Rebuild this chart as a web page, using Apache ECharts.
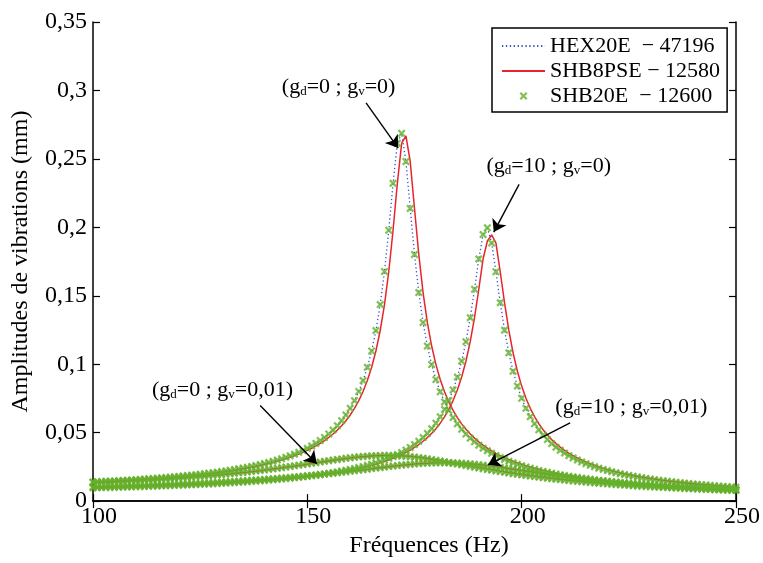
<!DOCTYPE html>
<html><head><meta charset="utf-8">
<script src="https://cdn.jsdelivr.net/npm/echarts@6/dist/echarts.min.js"></script>
<style>html,body{margin:0;padding:0;background:#fff}#c{width:763px;height:563px}</style>
</head><body><div id="c"></div>
<script>
// Frequencies (Hz)
const freqs = [100,101,102,103,104,105,106,107,108,109,110,111,112,113,114,115,116,117,118,119,120,121,122,123,124,125,126,127,128,129,130,131,132,133,134,135,136,137,138,139,140,141,142,143,144,145,146,147,148,149,150,151,152,153,154,155,156,157,158,159,160,161,162,163,164,165,166,167,168,169,170,171,172,173,174,175,176,177,178,179,180,181,182,183,184,185,186,187,188,189,190,191,192,193,194,195,196,197,198,199,200,201,202,203,204,205,206,207,208,209,210,211,212,213,214,215,216,217,218,219,220,221,222,223,224,225,226,227,228,229,230,231,232,233,234,235,236,237,238,239,240,241,242,243,244,245,246,247,248,249,250];

// SHB20E (markers) — four cases
const shb20_gd0_gv0 = [0.01398,0.01412,0.01427,0.01442,0.01458,0.01475,0.01492,0.01509,0.01528,0.01546,0.01566,0.01586,0.01607,0.01628,0.01650,0.01674,0.01698,0.01722,0.01748,0.01775,0.01803,0.01832,0.01863,0.01894,0.01927,0.01962,0.01998,0.02035,0.02075,0.02116,0.02159,0.02204,0.02252,0.02302,0.02355,0.02411,0.02470,0.02532,0.02598,0.02668,0.02742,0.02822,0.02906,0.02997,0.03094,0.03198,0.03309,0.03431,0.03562,0.03704,0.03859,0.04029,0.04215,0.04421,0.04648,0.04902,0.05187,0.05509,0.05874,0.06292,0.06775,0.07340,0.08007,0.08805,0.09774,0.10967,0.12461,0.14356,0.16772,0.19787,0.23216,0.26138,0.26870,0.24810,0.21379,0.18016,0.15234,0.13043,0.11328,0.09970,0.08878,0.07987,0.07248,0.06627,0.06099,0.05643,0.05249,0.04903,0.04598,0.04328,0.04085,0.03867,0.03670,0.03491,0.03327,0.03178,0.03040,0.02913,0.02796,0.02687,0.02586,0.02492,0.02404,0.02321,0.02244,0.02171,0.02103,0.02038,0.01977,0.01919,0.01864,0.01812,0.01763,0.01716,0.01671,0.01628,0.01588,0.01549,0.01511,0.01476,0.01441,0.01409,0.01377,0.01347,0.01318,0.01290,0.01263,0.01237,0.01212,0.01188,0.01165,0.01142,0.01121,0.01100,0.01079,0.01060,0.01041,0.01022,0.01004,0.00987,0.00970,0.00954,0.00938,0.00923,0.00908,0.00893,0.00879,0.00865,0.00852,0.00839,0.00826];
const shb20_gd10_gv0 = [0.00971,0.00978,0.00986,0.00994,0.01002,0.01010,0.01018,0.01027,0.01035,0.01044,0.01054,0.01063,0.01073,0.01083,0.01093,0.01104,0.01115,0.01126,0.01137,0.01149,0.01161,0.01174,0.01187,0.01200,0.01214,0.01228,0.01243,0.01258,0.01274,0.01290,0.01307,0.01324,0.01342,0.01361,0.01380,0.01400,0.01420,0.01442,0.01464,0.01487,0.01511,0.01536,0.01562,0.01589,0.01617,0.01647,0.01678,0.01710,0.01743,0.01779,0.01816,0.01854,0.01895,0.01938,0.01983,0.02030,0.02080,0.02133,0.02190,0.02249,0.02312,0.02380,0.02452,0.02528,0.02611,0.02699,0.02794,0.02896,0.03007,0.03127,0.03258,0.03401,0.03558,0.03730,0.03922,0.04134,0.04372,0.04640,0.04945,0.05292,0.05691,0.06155,0.06700,0.07345,0.08121,0.09062,0.10219,0.11646,0.13399,0.15476,0.17689,0.19469,0.19964,0.18849,0.16754,0.14495,0.12488,0.10829,0.09486,0.08400,0.07513,0.06780,0.06168,0.05650,0.05208,0.04823,0.04491,0.04199,0.03941,0.03712,0.03506,0.03320,0.03153,0.03000,0.02861,0.02734,0.02616,0.02508,0.02408,0.02315,0.02229,0.02148,0.02073,0.02002,0.01936,0.01874,0.01815,0.01760,0.01708,0.01658,0.01611,0.01567,0.01524,0.01484,0.01446,0.01409,0.01374,0.01341,0.01309,0.01278,0.01249,0.01221,0.01194,0.01168,0.01143,0.01119,0.01096,0.01074,0.01052,0.01032,0.01012];
const shb20_gd0_gv001 = [0.01359,0.01371,0.01384,0.01397,0.01411,0.01425,0.01439,0.01454,0.01469,0.01485,0.01500,0.01517,0.01534,0.01551,0.01569,0.01588,0.01607,0.01626,0.01646,0.01667,0.01688,0.01710,0.01733,0.01756,0.01780,0.01805,0.01830,0.01856,0.01883,0.01911,0.01940,0.01970,0.02000,0.02032,0.02064,0.02097,0.02132,0.02167,0.02204,0.02241,0.02279,0.02319,0.02359,0.02401,0.02443,0.02487,0.02531,0.02576,0.02622,0.02668,0.02715,0.02762,0.02810,0.02857,0.02904,0.02951,0.02996,0.03041,0.03084,0.03125,0.03164,0.03200,0.03232,0.03261,0.03285,0.03306,0.03321,0.03331,0.03336,0.03335,0.03329,0.03317,0.03299,0.03275,0.03247,0.03214,0.03176,0.03134,0.03088,0.03040,0.02989,0.02935,0.02880,0.02824,0.02766,0.02708,0.02650,0.02592,0.02534,0.02477,0.02421,0.02365,0.02310,0.02257,0.02204,0.02153,0.02103,0.02054,0.02007,0.01961,0.01916,0.01873,0.01831,0.01790,0.01750,0.01712,0.01675,0.01638,0.01603,0.01570,0.01537,0.01505,0.01474,0.01445,0.01416,0.01388,0.01360,0.01334,0.01309,0.01284,0.01260,0.01236,0.01214,0.01192,0.01170,0.01150,0.01129,0.01110,0.01091,0.01072,0.01054,0.01037,0.01020,0.01003,0.00987,0.00971,0.00956,0.00941,0.00926,0.00912,0.00898,0.00885,0.00872,0.00859,0.00846,0.00834,0.00822,0.00810,0.00799,0.00788,0.00777];
const shb20_gd10_gv001 = [0.01038,0.01046,0.01054,0.01062,0.01070,0.01079,0.01088,0.01097,0.01107,0.01116,0.01126,0.01136,0.01146,0.01157,0.01168,0.01179,0.01190,0.01202,0.01214,0.01227,0.01239,0.01252,0.01266,0.01280,0.01294,0.01308,0.01323,0.01339,0.01354,0.01371,0.01387,0.01405,0.01422,0.01440,0.01459,0.01478,0.01498,0.01519,0.01540,0.01561,0.01583,0.01606,0.01630,0.01654,0.01679,0.01705,0.01731,0.01758,0.01786,0.01815,0.01845,0.01875,0.01906,0.01938,0.01971,0.02005,0.02039,0.02074,0.02110,0.02146,0.02183,0.02221,0.02258,0.02297,0.02335,0.02374,0.02412,0.02450,0.02488,0.02525,0.02561,0.02596,0.02629,0.02660,0.02689,0.02715,0.02739,0.02759,0.02776,0.02789,0.02798,0.02803,0.02803,0.02799,0.02791,0.02778,0.02761,0.02739,0.02714,0.02685,0.02653,0.02618,0.02581,0.02541,0.02499,0.02455,0.02410,0.02365,0.02318,0.02271,0.02225,0.02178,0.02131,0.02085,0.02039,0.01994,0.01950,0.01906,0.01864,0.01822,0.01782,0.01742,0.01704,0.01666,0.01630,0.01594,0.01559,0.01526,0.01493,0.01462,0.01431,0.01401,0.01373,0.01345,0.01317,0.01291,0.01266,0.01241,0.01217,0.01193,0.01171,0.01149,0.01127,0.01107,0.01087,0.01067,0.01048,0.01029,0.01012,0.00994,0.00977,0.00961,0.00945,0.00929,0.00914,0.00899,0.00884,0.00870,0.00857,0.00843,0.00830];

// HEX20E (blue dotted) — four cases
const hex_gd0_gv0 = [0.01398,0.01412,0.01427,0.01442,0.01458,0.01475,0.01492,0.01509,0.01528,0.01546,0.01566,0.01586,0.01607,0.01628,0.01650,0.01674,0.01698,0.01722,0.01748,0.01775,0.01803,0.01832,0.01863,0.01894,0.01927,0.01962,0.01998,0.02035,0.02075,0.02116,0.02159,0.02204,0.02252,0.02302,0.02355,0.02411,0.02470,0.02532,0.02598,0.02668,0.02742,0.02822,0.02906,0.02997,0.03094,0.03198,0.03309,0.03431,0.03562,0.03704,0.03859,0.04029,0.04215,0.04421,0.04648,0.04902,0.05187,0.05509,0.05874,0.06292,0.06775,0.07340,0.08007,0.08805,0.09774,0.10967,0.12461,0.14356,0.16772,0.19787,0.23216,0.26138,0.26870,0.24810,0.21379,0.18016,0.15234,0.13043,0.11328,0.09970,0.08878,0.07987,0.07248,0.06627,0.06099,0.05643,0.05249,0.04903,0.04598,0.04328,0.04085,0.03867,0.03670,0.03491,0.03327,0.03178,0.03040,0.02913,0.02796,0.02687,0.02586,0.02492,0.02404,0.02321,0.02244,0.02171,0.02103,0.02038,0.01977,0.01919,0.01864,0.01812,0.01763,0.01716,0.01671,0.01628,0.01588,0.01549,0.01511,0.01476,0.01441,0.01409,0.01377,0.01347,0.01318,0.01290,0.01263,0.01237,0.01212,0.01188,0.01165,0.01142,0.01121,0.01100,0.01079,0.01060,0.01041,0.01022,0.01004,0.00987,0.00970,0.00954,0.00938,0.00923,0.00908,0.00893,0.00879,0.00865,0.00852,0.00839,0.00826];
const hex_gd10_gv0 = [0.00971,0.00978,0.00986,0.00994,0.01002,0.01010,0.01018,0.01027,0.01035,0.01044,0.01054,0.01063,0.01073,0.01083,0.01093,0.01104,0.01115,0.01126,0.01137,0.01149,0.01161,0.01174,0.01187,0.01200,0.01214,0.01228,0.01243,0.01258,0.01274,0.01290,0.01307,0.01324,0.01342,0.01361,0.01380,0.01400,0.01420,0.01442,0.01464,0.01487,0.01511,0.01536,0.01562,0.01589,0.01617,0.01647,0.01678,0.01710,0.01743,0.01779,0.01816,0.01854,0.01895,0.01938,0.01983,0.02030,0.02080,0.02133,0.02190,0.02249,0.02312,0.02380,0.02452,0.02528,0.02611,0.02699,0.02794,0.02896,0.03007,0.03127,0.03258,0.03401,0.03558,0.03730,0.03922,0.04134,0.04372,0.04640,0.04945,0.05292,0.05691,0.06155,0.06700,0.07345,0.08121,0.09062,0.10219,0.11646,0.13399,0.15476,0.17689,0.19469,0.19964,0.18849,0.16754,0.14495,0.12488,0.10829,0.09486,0.08400,0.07513,0.06780,0.06168,0.05650,0.05208,0.04823,0.04491,0.04199,0.03941,0.03712,0.03506,0.03320,0.03153,0.03000,0.02861,0.02734,0.02616,0.02508,0.02408,0.02315,0.02229,0.02148,0.02073,0.02002,0.01936,0.01874,0.01815,0.01760,0.01708,0.01658,0.01611,0.01567,0.01524,0.01484,0.01446,0.01409,0.01374,0.01341,0.01309,0.01278,0.01249,0.01221,0.01194,0.01168,0.01143,0.01119,0.01096,0.01074,0.01052,0.01032,0.01012];
const hex_gd0_gv001 = [0.01359,0.01371,0.01384,0.01397,0.01411,0.01425,0.01439,0.01454,0.01469,0.01485,0.01500,0.01517,0.01534,0.01551,0.01569,0.01588,0.01607,0.01626,0.01646,0.01667,0.01688,0.01710,0.01733,0.01756,0.01780,0.01805,0.01830,0.01856,0.01883,0.01911,0.01940,0.01970,0.02000,0.02032,0.02064,0.02097,0.02132,0.02167,0.02204,0.02241,0.02279,0.02319,0.02359,0.02401,0.02443,0.02487,0.02531,0.02576,0.02622,0.02668,0.02715,0.02762,0.02810,0.02857,0.02904,0.02951,0.02996,0.03041,0.03084,0.03125,0.03164,0.03200,0.03232,0.03261,0.03285,0.03306,0.03321,0.03331,0.03336,0.03335,0.03329,0.03317,0.03299,0.03275,0.03247,0.03214,0.03176,0.03134,0.03088,0.03040,0.02989,0.02935,0.02880,0.02824,0.02766,0.02708,0.02650,0.02592,0.02534,0.02477,0.02421,0.02365,0.02310,0.02257,0.02204,0.02153,0.02103,0.02054,0.02007,0.01961,0.01916,0.01873,0.01831,0.01790,0.01750,0.01712,0.01675,0.01638,0.01603,0.01570,0.01537,0.01505,0.01474,0.01445,0.01416,0.01388,0.01360,0.01334,0.01309,0.01284,0.01260,0.01236,0.01214,0.01192,0.01170,0.01150,0.01129,0.01110,0.01091,0.01072,0.01054,0.01037,0.01020,0.01003,0.00987,0.00971,0.00956,0.00941,0.00926,0.00912,0.00898,0.00885,0.00872,0.00859,0.00846,0.00834,0.00822,0.00810,0.00799,0.00788,0.00777];
const hex_gd10_gv001 = [0.01038,0.01046,0.01054,0.01062,0.01070,0.01079,0.01088,0.01097,0.01107,0.01116,0.01126,0.01136,0.01146,0.01157,0.01168,0.01179,0.01190,0.01202,0.01214,0.01227,0.01239,0.01252,0.01266,0.01280,0.01294,0.01308,0.01323,0.01339,0.01354,0.01371,0.01387,0.01405,0.01422,0.01440,0.01459,0.01478,0.01498,0.01519,0.01540,0.01561,0.01583,0.01606,0.01630,0.01654,0.01679,0.01705,0.01731,0.01758,0.01786,0.01815,0.01845,0.01875,0.01906,0.01938,0.01971,0.02005,0.02039,0.02074,0.02110,0.02146,0.02183,0.02221,0.02258,0.02297,0.02335,0.02374,0.02412,0.02450,0.02488,0.02525,0.02561,0.02596,0.02629,0.02660,0.02689,0.02715,0.02739,0.02759,0.02776,0.02789,0.02798,0.02803,0.02803,0.02799,0.02791,0.02778,0.02761,0.02739,0.02714,0.02685,0.02653,0.02618,0.02581,0.02541,0.02499,0.02455,0.02410,0.02365,0.02318,0.02271,0.02225,0.02178,0.02131,0.02085,0.02039,0.01994,0.01950,0.01906,0.01864,0.01822,0.01782,0.01742,0.01704,0.01666,0.01630,0.01594,0.01559,0.01526,0.01493,0.01462,0.01431,0.01401,0.01373,0.01345,0.01317,0.01291,0.01266,0.01241,0.01217,0.01193,0.01171,0.01149,0.01127,0.01107,0.01087,0.01067,0.01048,0.01029,0.01012,0.00994,0.00977,0.00961,0.00945,0.00929,0.00914,0.00899,0.00884,0.00870,0.00857,0.00843,0.00830];

// SHB8PSE (red solid) — four cases
const shb8_gd0_gv0 = [0.01383,0.01398,0.01412,0.01427,0.01442,0.01458,0.01475,0.01492,0.01509,0.01528,0.01546,0.01566,0.01586,0.01607,0.01628,0.01650,0.01674,0.01698,0.01722,0.01748,0.01775,0.01803,0.01832,0.01863,0.01894,0.01927,0.01962,0.01998,0.02035,0.02075,0.02116,0.02159,0.02204,0.02252,0.02302,0.02355,0.02411,0.02470,0.02532,0.02598,0.02668,0.02742,0.02822,0.02906,0.02997,0.03094,0.03198,0.03309,0.03431,0.03562,0.03704,0.03859,0.04029,0.04215,0.04421,0.04648,0.04902,0.05187,0.05509,0.05874,0.06292,0.06775,0.07340,0.08007,0.08805,0.09774,0.10967,0.12461,0.14356,0.16772,0.19787,0.23216,0.26138,0.26680,0.24810,0.21379,0.18016,0.15234,0.13043,0.11328,0.09970,0.08878,0.07987,0.07248,0.06627,0.06099,0.05643,0.05249,0.04903,0.04598,0.04328,0.04085,0.03867,0.03670,0.03491,0.03327,0.03178,0.03040,0.02913,0.02796,0.02687,0.02586,0.02492,0.02404,0.02321,0.02244,0.02171,0.02103,0.02038,0.01977,0.01919,0.01864,0.01812,0.01763,0.01716,0.01671,0.01628,0.01588,0.01549,0.01511,0.01476,0.01441,0.01409,0.01377,0.01347,0.01318,0.01290,0.01263,0.01237,0.01212,0.01188,0.01165,0.01142,0.01121,0.01100,0.01079,0.01060,0.01041,0.01022,0.01004,0.00987,0.00970,0.00954,0.00938,0.00923,0.00908,0.00893,0.00879,0.00865,0.00852,0.00839];
const shb8_gd10_gv0 = [0.00964,0.00971,0.00978,0.00986,0.00994,0.01002,0.01010,0.01018,0.01027,0.01035,0.01044,0.01054,0.01063,0.01073,0.01083,0.01093,0.01104,0.01115,0.01126,0.01137,0.01149,0.01161,0.01174,0.01187,0.01200,0.01214,0.01228,0.01243,0.01258,0.01274,0.01290,0.01307,0.01324,0.01342,0.01361,0.01380,0.01400,0.01420,0.01442,0.01464,0.01487,0.01511,0.01536,0.01562,0.01589,0.01617,0.01647,0.01678,0.01710,0.01743,0.01779,0.01816,0.01854,0.01895,0.01938,0.01983,0.02030,0.02080,0.02133,0.02190,0.02249,0.02312,0.02380,0.02452,0.02528,0.02611,0.02699,0.02794,0.02896,0.03007,0.03127,0.03258,0.03401,0.03558,0.03730,0.03922,0.04134,0.04372,0.04640,0.04945,0.05292,0.05691,0.06155,0.06700,0.07345,0.08121,0.09062,0.10219,0.11646,0.13399,0.15476,0.17689,0.19000,0.19450,0.18849,0.16754,0.14495,0.12488,0.10829,0.09486,0.08400,0.07513,0.06780,0.06168,0.05650,0.05208,0.04823,0.04491,0.04199,0.03941,0.03712,0.03506,0.03320,0.03153,0.03000,0.02861,0.02734,0.02616,0.02508,0.02408,0.02315,0.02229,0.02148,0.02073,0.02002,0.01936,0.01874,0.01815,0.01760,0.01708,0.01658,0.01611,0.01567,0.01524,0.01484,0.01446,0.01409,0.01374,0.01341,0.01309,0.01278,0.01249,0.01221,0.01194,0.01168,0.01143,0.01119,0.01096,0.01074,0.01052,0.01032];
const shb8_gd0_gv001 = [0.01352,0.01365,0.01377,0.01390,0.01404,0.01418,0.01432,0.01446,0.01461,0.01477,0.01492,0.01508,0.01525,0.01542,0.01560,0.01578,0.01597,0.01616,0.01636,0.01656,0.01677,0.01699,0.01721,0.01744,0.01768,0.01792,0.01817,0.01843,0.01869,0.01897,0.01925,0.01955,0.01985,0.02016,0.02048,0.02081,0.02114,0.02149,0.02185,0.02222,0.02260,0.02299,0.02339,0.02380,0.02422,0.02465,0.02509,0.02553,0.02599,0.02645,0.02692,0.02739,0.02786,0.02834,0.02881,0.02928,0.02974,0.03019,0.03063,0.03105,0.03145,0.03182,0.03216,0.03247,0.03273,0.03296,0.03314,0.03327,0.03335,0.03338,0.03336,0.03328,0.03315,0.03296,0.03272,0.03243,0.03209,0.03170,0.03127,0.03080,0.03031,0.02979,0.02925,0.02870,0.02813,0.02756,0.02698,0.02640,0.02582,0.02524,0.02467,0.02411,0.02356,0.02302,0.02249,0.02197,0.02147,0.02097,0.02049,0.02002,0.01956,0.01912,0.01869,0.01827,0.01786,0.01746,0.01708,0.01671,0.01635,0.01600,0.01567,0.01534,0.01502,0.01471,0.01442,0.01413,0.01385,0.01358,0.01332,0.01307,0.01282,0.01258,0.01235,0.01212,0.01190,0.01169,0.01148,0.01128,0.01108,0.01089,0.01071,0.01053,0.01036,0.01019,0.01002,0.00986,0.00970,0.00955,0.00940,0.00925,0.00911,0.00897,0.00884,0.00871,0.00858,0.00846,0.00833,0.00821,0.00810,0.00798,0.00787];
const shb8_gd10_gv001 = [0.01032,0.01040,0.01048,0.01056,0.01064,0.01073,0.01082,0.01091,0.01101,0.01110,0.01120,0.01130,0.01140,0.01151,0.01162,0.01173,0.01184,0.01196,0.01208,0.01220,0.01233,0.01246,0.01259,0.01273,0.01287,0.01301,0.01316,0.01331,0.01347,0.01363,0.01379,0.01396,0.01414,0.01431,0.01450,0.01469,0.01488,0.01508,0.01529,0.01550,0.01572,0.01595,0.01618,0.01642,0.01667,0.01692,0.01718,0.01745,0.01772,0.01800,0.01830,0.01860,0.01890,0.01922,0.01954,0.01988,0.02022,0.02057,0.02092,0.02128,0.02165,0.02202,0.02240,0.02278,0.02316,0.02355,0.02393,0.02431,0.02469,0.02507,0.02543,0.02579,0.02613,0.02645,0.02675,0.02702,0.02727,0.02749,0.02768,0.02783,0.02794,0.02801,0.02803,0.02801,0.02795,0.02785,0.02770,0.02750,0.02727,0.02700,0.02669,0.02636,0.02600,0.02561,0.02520,0.02477,0.02433,0.02388,0.02342,0.02295,0.02248,0.02202,0.02155,0.02108,0.02062,0.02017,0.01972,0.01928,0.01885,0.01843,0.01802,0.01762,0.01723,0.01685,0.01648,0.01612,0.01577,0.01543,0.01510,0.01478,0.01447,0.01416,0.01387,0.01359,0.01331,0.01304,0.01278,0.01253,0.01229,0.01205,0.01182,0.01160,0.01138,0.01117,0.01097,0.01077,0.01058,0.01039,0.01021,0.01003,0.00986,0.00969,0.00953,0.00937,0.00922,0.00907,0.00892,0.00878,0.00864,0.00850,0.00837];

const legendNames = ['HEX20E  \u2212 47196', 'SHB8PSE \u2212 12580', 'SHB20E  \u2212 12600'];
const yTicks = [0, 0.05, 0.1, 0.15, 0.2, 0.25, 0.3, 0.35];
const xTicks = [100, 150, 200, 250];

// Annotations (text + arrow, in data coordinates)
const notes = [
  {text: '(g{sub|d}=0 ; g{sub|v}=0)', at: [157.3, 0.3025], from: [163.7, 0.2909], to: [171.2, 0.2579]},
  {text: '(g{sub|d}=10 ; g{sub|v}=0)', at: [206.3, 0.2446], from: [199.4, 0.2314], to: [193.5, 0.1965]},
  {text: '(g{sub|d}=0 ; g{sub|v}=0,01)', at: [130.2, 0.0808], from: [139.0, 0.0699], to: [152.2, 0.0273]},
  {text: '(g{sub|d}=10 ; g{sub|v}=0,01)', at: [225.6, 0.0687], from: [211.3, 0.0571], to: [192.2, 0.0265]}
];

const FONT = '"Liberation Serif", "Times New Roman", serif';
const pairs = arr => freqs.map((f, i) => [f, arr[i]]);

const hexSets = [hex_gd0_gv0, hex_gd10_gv0, hex_gd0_gv001, hex_gd10_gv001];
const shb8Sets = [shb8_gd0_gv0, shb8_gd10_gv0, shb8_gd0_gv001, shb8_gd10_gv001];
const shb20Sets = [shb20_gd0_gv0, shb20_gd10_gv0, shb20_gd0_gv001, shb20_gd10_gv001];

const series = [];
hexSets.forEach(a => series.push({
  name: legendNames[0], type: 'line', data: pairs(a), symbol: 'none', silent: true,
  lineStyle: {color: '#3556c4', width: 1.3, type: [1.3, 2.6]}, itemStyle: {color: '#3556c4'}, z: 2
}));
shb8Sets.forEach(a => series.push({
  name: legendNames[1], type: 'line', data: pairs(a), symbol: 'none', silent: true,
  lineStyle: {color: '#e8232b', width: 1.5}, itemStyle: {color: '#e8232b'}, z: 3
}));
const xMark = 'path://M0,2 L2,0 L5,3 L8,0 L10,2 L7,5 L10,8 L8,10 L5,7 L2,10 L0,8 L3,5 Z';
shb20Sets.forEach(a => series.push({
  name: legendNames[2], type: 'scatter', data: pairs(a), symbol: xMark, symbolSize: 8, silent: true,
  itemStyle: {color: '#64b22c'}, z: 4
}));
series.push({
  type: 'line', data: [], silent: true, z: 6,
  markLine: {
    silent: true, symbol: ['none', 'arrow'], symbolSize: 12, animation: false,
    lineStyle: {color: '#000', width: 1.4, type: 'solid'}, label: {show: false},
    data: notes.map(n => [{coord: n.from}, {coord: n.to}])
  },
  markPoint: {
    silent: true, animation: false, symbol: 'circle', symbolSize: 0,
    label: {show: true, position: 'inside', color: '#000', fontFamily: FONT, fontSize: 22, lineHeight: 24,
      rich: {sub: {fontFamily: FONT, fontSize: 13, color: '#000', padding: [9, 0, 0, 0], lineHeight: 24}}},
    data: notes.map(n => ({coord: n.at, label: {formatter: n.text}}))
  }
});

const fmt = v => String(Math.round(v * 100) / 100).replace('.', ',');
const axisCommon = {
  axisLine: {show: true, lineStyle: {color: '#000', width: 1.5}},
  axisTick: {show: true, inside: true, length: 7, lineStyle: {color: '#000', width: 1.2}},
  splitLine: {show: false}
};

const chart = echarts.init(document.getElementById('c'), null, {renderer: 'canvas'});
chart.setOption({
  animation: false,
  backgroundColor: '#fff',
  grid: {left: 93, right: 27, top: 22, bottom: 58, containLabel: false},
  legend: {
    data: [
      {name: legendNames[0], itemStyle: {opacity: 0}},
      {name: legendNames[1], itemStyle: {opacity: 0}},
      {name: legendNames[2]}
    ],
    orient: 'vertical', left: 492, top: 28,
    backgroundColor: '#fff', borderColor: '#000', borderWidth: 1.5, borderRadius: 0,
    padding: [7, 7, 5, 9], itemGap: 3, itemWidth: 43, itemHeight: 8,
    textStyle: {fontFamily: FONT, fontSize: 22, color: '#000'},
    selectedMode: false, z: 10
  },
  xAxis: [
    Object.assign({type: 'value', min: xTicks[0], max: xTicks[xTicks.length - 1], interval: 50, position: 'bottom',
      axisLabel: {fontFamily: FONT, fontSize: 24, color: '#000', margin: 4, padding: [0, 0, 0, 12], formatter: v => String(v)},
      name: 'Fréquences (Hz)', nameLocation: 'middle', nameGap: 29,
      nameTextStyle: {fontFamily: FONT, fontSize: 24, color: '#000', padding: [0, 0, 0, 29]}}, axisCommon),
    Object.assign({type: 'value', min: xTicks[0], max: xTicks[xTicks.length - 1], interval: 50, position: 'top',
      axisLabel: {show: false}}, axisCommon)
  ],
  yAxis: [
    Object.assign({type: 'value', min: yTicks[0], max: yTicks[yTicks.length - 1], interval: 0.05, position: 'left',
      axisLabel: {fontFamily: FONT, fontSize: 24, color: '#000', margin: 6, formatter: fmt},
      name: 'Amplitudes de vibrations (mm)', nameLocation: 'middle', nameGap: 60,
      nameTextStyle: {fontFamily: FONT, fontSize: 24, color: '#000'}}, axisCommon),
    Object.assign({type: 'value', min: yTicks[0], max: yTicks[yTicks.length - 1], interval: 0.05, position: 'right',
      axisLabel: {show: false}}, axisCommon)
  ],
  series: series
});
</script>
</body></html>
